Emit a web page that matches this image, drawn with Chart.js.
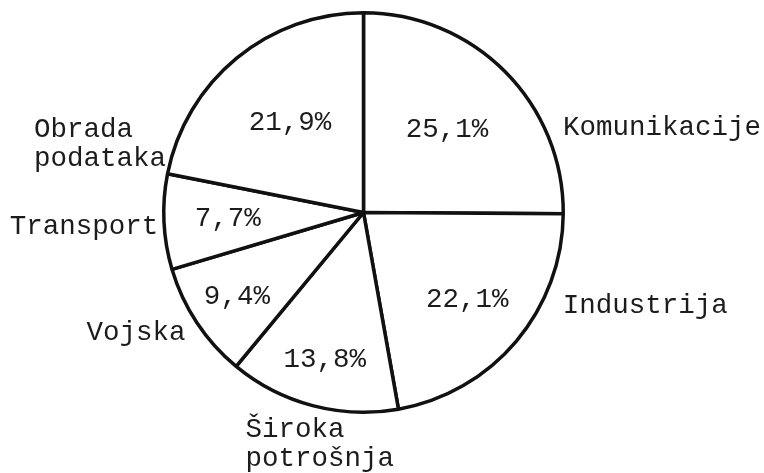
<head><meta charset="utf-8"></head>
<body style="margin:0;background:#fff;">
    <script src="https://cdn.jsdelivr.net/npm/chart.js/dist/chart.umd.min.js"></script>
    <div style="width:764px;height:473px;position:relative;">
        <canvas id="pieChart" width="764" height="473"></canvas>
    </div>

<script>
    // sectors, clockwise from the top
    const categories = [['Komunikacije'], ['Industrija'], ['Široka', 'potrošnja'], ['Vojska'], ['Transport'], ['Obrada', 'podataka']];
    const shares = [25.1, 22.1, 13.8, 9.4, 7.7, 21.9];

    // where the value text sits inside each slice (fraction of radius)
    const valueInset = [0.59, 0.68, 0.76, 0.76, 0.68, 0.58];
    // outside names: angle in degrees clockwise from top, distance past the rim, side
    const nameAngle = [67, 115, 207, 236, 266, 289];
    const nameGap = [17, 20, 60, 15, 6, 9];
    const nameSide = ['left', 'left', 'left', 'right', 'right', 'right'];

    const FONT = '27.5px "Liberation Mono", "Courier New", monospace';
    const INK = '#1c1c1c';

    const pieLabels = {
        id: 'pieLabels',
        afterDraw(chart) {
            const ctx = chart.ctx;
            const meta = chart.getDatasetMeta(0);
            ctx.save();
            ctx.font = FONT;
            ctx.fillStyle = INK;
            ctx.textBaseline = 'middle';
            meta.data.forEach((arc, i) => {
                const p = arc.getProps(['x', 'y', 'startAngle', 'endAngle', 'outerRadius'], true);
                // value inside
                const mid = (p.startAngle + p.endAngle) / 2;
                const r = p.outerRadius * valueInset[i];
                ctx.textAlign = 'center';
                ctx.fillText(shares[i].toFixed(1).replace('.', ',') + '%', p.x + Math.cos(mid) * r, p.y + Math.sin(mid) * r);

                // category name outside
                const a = (nameAngle[i] - 90) * Math.PI / 180;
                const ro = p.outerRadius + nameGap[i];
                const ax = p.x + Math.cos(a) * ro;
                const ay = p.y + Math.sin(a) * ro;
                const lines = categories[i];
                const lh = 29;
                const widest = Math.max(...lines.map(l => ctx.measureText(l).width));
                const left = nameSide[i] === 'left' ? ax : ax - widest;
                ctx.textAlign = 'left';
                lines.forEach((line, k) => {
                    ctx.fillText(line, left, ay + (k - (lines.length - 1) / 2) * lh);
                });
            });
            ctx.restore();
        }
    };

    new Chart('pieChart', {
        type: 'pie',
        data: {
            labels: categories.map(c => c.join(' ')),
            datasets: [{
                data: shares,
                backgroundColor: '#ffffff',
                borderColor: '#111111',
                borderWidth: 3.5,
            }],
        },
        options: {
            responsive: false,
            animation: false,
            layout: {
                padding: { left: 162, right: 199, top: 11, bottom: 59 },
            },
            plugins: {
                legend: { display: false },
                tooltip: { enabled: false },
            },
        },
        plugins: [pieLabels],
    });
</script>
</body>
